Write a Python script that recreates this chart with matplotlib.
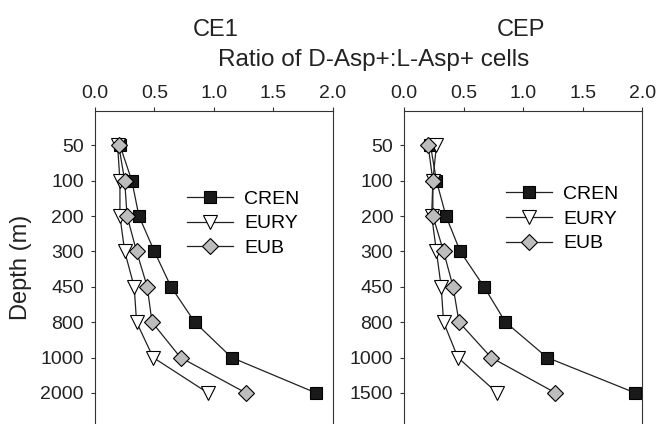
import numpy as np
import matplotlib.pyplot as plt

plt.rcParams['font.family'] = ['Liberation Sans', 'DejaVu Sans']

# depth categories (m)
depth_ce1 = ['50', '100', '200', '300', '450', '800', '1000', '2000']
depth_cep = ['50', '100', '200', '300', '450', '800', '1000', '1500']

# ratio of D-Asp+ : L-Asp+ cells
ce1_cren = [0.21, 0.31, 0.37, 0.50, 0.64, 0.84, 1.15, 1.86]
ce1_eury = [0.19, 0.21, 0.21, 0.25, 0.33, 0.35, 0.49, 0.95]
ce1_eub = [0.20, 0.25, 0.27, 0.35, 0.44, 0.48, 0.72, 1.27]

cep_cren = [0.22, 0.27, 0.35, 0.47, 0.67, 0.85, 1.20, 1.94]
cep_eury = [0.27, 0.24, 0.23, 0.27, 0.31, 0.33, 0.45, 0.78]
cep_eub = [0.20, 0.24, 0.24, 0.33, 0.41, 0.46, 0.73, 1.27]

xticks = [0.0, 0.5, 1.0, 1.5, 2.0]

fig = plt.figure(figsize=(6.56, 4.24), dpi=100)
ax1 = fig.add_axes([95/656, 0, 237.5/656, 313/424])
ax2 = fig.add_axes([404.3/656, 0, 238/656, 313/424])


def panel(ax, depths, cren, eury, eub, leg_pos):
    y = np.arange(len(depths))
    ax.plot(cren, y, '-s', color='#222222', lw=0.9, ms=9, mfc='#1a1a1a',
            mec='black', mew=0.8, label='CREN')
    ax.plot(eury, y, '-v', color='#222222', lw=0.9, ms=10, mfc='white',
            mec='black', mew=0.8, label='EURY')
    ax.plot(eub, y, '-D', color='#222222', lw=0.9, ms=8.5, mfc='#bdbdbd',
            mec='black', mew=0.8, label='EUB')
    ax.set_xlim(0, 2.0)
    ax.set_ylim(7.88, -0.97)
    ax.set_yticks(y)
    ax.set_yticklabels(depths)
    ax.set_xticks(xticks)
    ax.set_xticklabels(['%.1f' % v for v in xticks])
    ax.xaxis.tick_top()
    ax.tick_params(axis='both', labelsize=14, length=3, width=0.8,
                   color='#333333', labelcolor='#222222')
    ax.tick_params(axis='x', pad=3.5)
    ax.tick_params(axis='y', pad=5)
    ax.spines['bottom'].set_visible(False)
    for s in ['top', 'left', 'right']:
        ax.spines[s].set_linewidth(0.8)
        ax.spines[s].set_color('#333333')
    ax.legend(loc='upper left', bbox_to_anchor=leg_pos, frameon=False,
              fontsize=14, handlelength=2.35, handletextpad=0.6,
              labelspacing=0.36, borderpad=0, borderaxespad=0)


panel(ax1, depth_ce1, ce1_cren, ce1_eury, ce1_eub, (0.387, 0.747))
panel(ax2, depth_cep, cep_cren, cep_eury, cep_eub, (0.427, 0.762))

ax1.set_ylabel('Depth (m)', fontsize=17, color='#222222', labelpad=6)

fig.text(216/656, 1 - 29.5/424, 'CE1', fontsize=17, ha='center', va='center',
         color='#222222')
fig.text(521/656, 1 - 29.5/424, 'CEP', fontsize=17, ha='center', va='center',
         color='#222222')
fig.text(373.5/656, 1 - 60/424, 'Ratio of D-Asp+:L-Asp+ cells', fontsize=17.5,
         ha='center', va='center', color='#222222')

fig.savefig('out.png', dpi=100)
